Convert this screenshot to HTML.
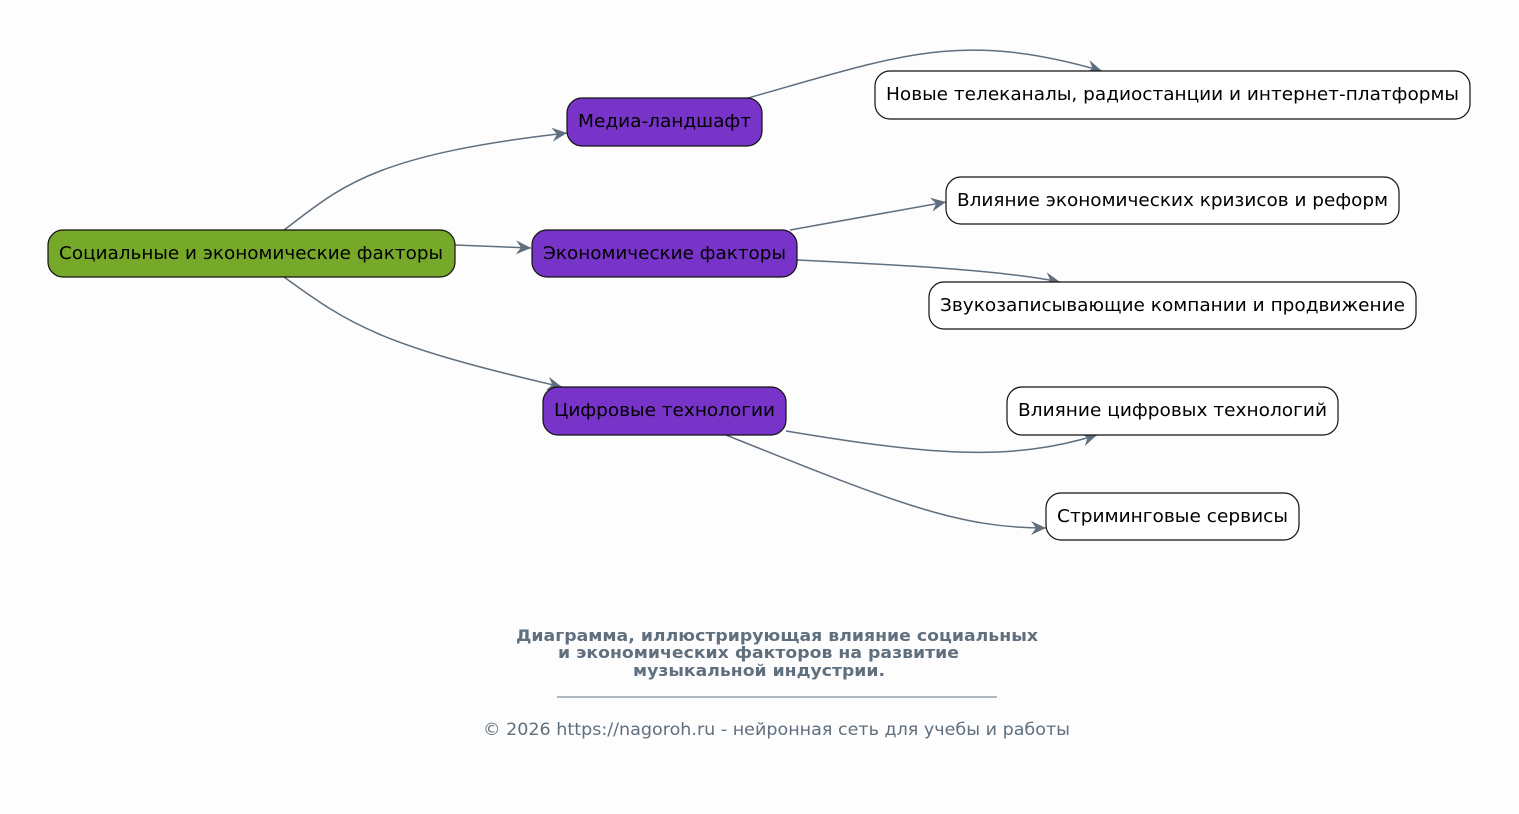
<!DOCTYPE html>
<html><head><meta charset="utf-8"><style>
body{margin:0;background:#fdfdfd}
svg{display:block}
text{font-family:"DejaVu Sans","Liberation Sans",sans-serif}
</style></head><body>
<svg width="1519" height="814" viewBox="0 0 1519 814">
<rect width="1519" height="814" fill="#fdfdfd"/>
<defs>
<marker id="a" markerWidth="18" markerHeight="14" refX="15" refY="7" orient="auto" markerUnits="userSpaceOnUse">
<path d="M0,0 L15,7 L0,14 L5,7 Z" fill="#5f6f7e"/>
</marker>
</defs>
<g fill="none" stroke="#5f6f7e" stroke-width="1.5">
<path d="M284,230 C340,188 370,155 567,133" marker-end="url(#a)"/>
<path d="M455,245 L531,248" marker-end="url(#a)"/>
<path d="M284,277 C350,325 380,345 562,387" marker-end="url(#a)"/>
<path d="M748,98 C900,55 960,30 1102,71" marker-end="url(#a)"/>
<path d="M790,230 L946,202" marker-end="url(#a)"/>
<path d="M797,260 C900,265 1000,270 1060,282" marker-end="url(#a)"/>
<path d="M786,431 C930,455 1010,462 1097,435" marker-end="url(#a)"/>
<path d="M726,435 C900,505 960,528 1046,528" marker-end="url(#a)"/>
</g>
<g stroke="#111" stroke-width="1.2">
<rect x="48" y="230" width="407" height="47" rx="15" fill="#76a82a"/>
<rect x="567" y="98" width="195" height="48" rx="15" fill="#7834c8"/>
<rect x="532" y="230" width="265" height="47" rx="15" fill="#7834c8"/>
<rect x="543" y="387" width="243" height="48" rx="15" fill="#7834c8"/>
<rect x="875" y="71" width="595" height="48" rx="15" fill="#fff"/>
<rect x="946" y="177" width="453" height="47" rx="15" fill="#fff"/>
<rect x="929" y="282" width="487" height="47" rx="15" fill="#fff"/>
<rect x="1007" y="387" width="331" height="48" rx="15" fill="#fff"/>
<rect x="1046" y="493" width="253" height="47" rx="15" fill="#fff"/>
</g>
<g font-size="18" fill="#000" lengthAdjust="spacingAndGlyphs">
<text x="59" y="259" textLength="384" lengthAdjust="spacingAndGlyphs">Социальные и экономические факторы</text>
<text x="578" y="127" textLength="173" lengthAdjust="spacingAndGlyphs">Медиа-ландшафт</text>
<text x="543" y="259" textLength="243" lengthAdjust="spacingAndGlyphs">Экономические факторы</text>
<text x="554" y="416" textLength="221" lengthAdjust="spacingAndGlyphs">Цифровые технологии</text>
<text x="886" y="100" textLength="573" lengthAdjust="spacingAndGlyphs">Новые телеканалы, радиостанции и интернет-платформы</text>
<text x="957" y="206" textLength="431" lengthAdjust="spacingAndGlyphs">Влияние экономических кризисов и реформ</text>
<text x="940" y="311" textLength="465" lengthAdjust="spacingAndGlyphs">Звукозаписывающие компании и продвижение</text>
<text x="1018" y="416" textLength="309" lengthAdjust="spacingAndGlyphs">Влияние цифровых технологий</text>
<text x="1057" y="522" textLength="231" lengthAdjust="spacingAndGlyphs">Стриминговые сервисы</text>
</g>
<g font-size="16" font-weight="bold" fill="#5f6f7e">
<text x="516" y="641" textLength="522" lengthAdjust="spacingAndGlyphs">Диаграмма, иллюстрирующая влияние социальных</text>
<text x="558" y="658" textLength="401" lengthAdjust="spacingAndGlyphs">и экономических факторов на развитие</text>
<text x="633" y="676" textLength="252" lengthAdjust="spacingAndGlyphs">музыкальной индустрии.</text>
</g>
<line x1="557" y1="697" x2="997" y2="697" stroke="#5f6f7e" stroke-width="1"/>
<text x="483" y="735" font-size="17" fill="#5f6f7e" textLength="587" lengthAdjust="spacingAndGlyphs">© 2026 https://nagoroh.ru - нейронная сеть для учебы и работы</text>
</svg>
</body></html>
